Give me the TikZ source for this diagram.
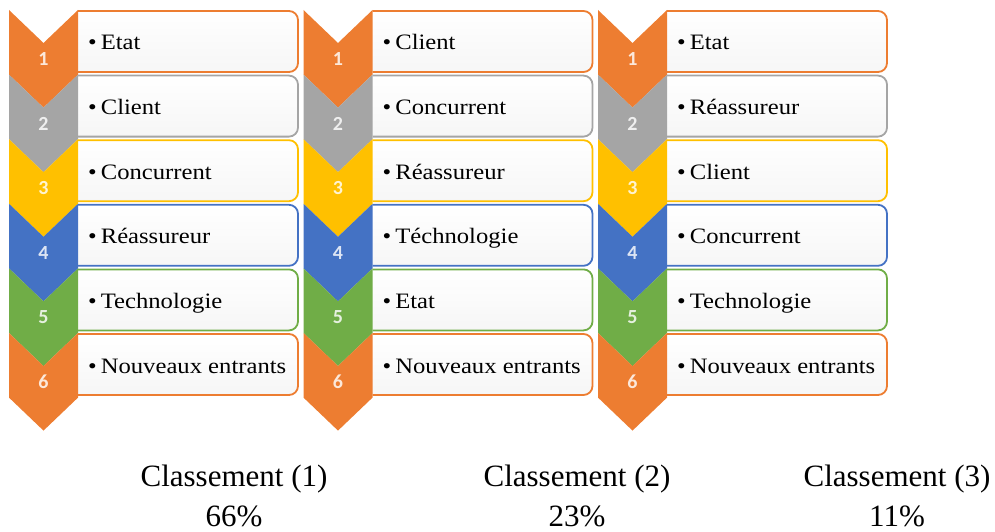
\documentclass[tikz,border=0pt]{standalone}
\usepackage{fontspec}
\setmainfont{Liberation Serif}
\newfontfamily\itemfont[FakeStretch=1.12]{Liberation Serif}
\newfontfamily\numfont{Carlito}
\definecolor{k1}{HTML}{ED7D31}
\definecolor{k2}{HTML}{A5A5A5}
\definecolor{k3}{HTML}{FFC000}
\definecolor{k4}{HTML}{4472C4}
\definecolor{k5}{HTML}{70AD47}
\definecolor{k6}{HTML}{ED7D31}
\tikzset{
  boxst/.style={line width=1.8pt, rounded corners=9pt, top color=white, bottom color=gray!7},
  numst/.style={font=\numfont\bfseries\fontsize{20}{20}\selectfont, inner sep=0pt},
  itemst/.style={anchor=base west, inner sep=0pt, font=\itemfont\fontsize{22}{22}\selectfont},
  labst/.style={anchor=base, inner sep=0pt, font=\fontsize{31}{31}\selectfont}
}
\newcommand\rankboxes[2]{% x0, list macro
  \foreach \r/\k/\t in #2{
    \pgfmathsetmacro\yt{10+(\r-1)*64.6}
    \begin{scope}
      \clip (#1+69,\yt-5) rectangle (#1+300,\yt+70);
      \draw[boxst, draw=\k] (#1+45,\yt+1) rectangle (#1+289,\yt+62);
    \end{scope}
  }
}
\newcommand\rankchevrons[3]{% x0, column id, list macro
  \foreach \r/\k/\t in #3{
    \pgfmathsetmacro\yt{10+(\r-1)*64.6}
    \fill[\k] (#1,\yt) -- (#1+34.5,\yt+33) -- (#1+69,\yt) -- (#1+69,\yt+64.6)
      -- (#1+34.5,\yt+97.6) -- (#1,\yt+64.6) -- cycle;
    \node[numst, text=white!82!\k] (n#2\r) at (#1+34.5,\yt+49) {\r};
    \node[itemst] (t#2\r) at (#1+79,\yt+40) {\textbullet\hspace{4pt}\t};
  }
}
\begin{document}
\begin{tikzpicture}[x=1pt,y=-1pt]
\useasboundingbox (0,0) rectangle (995,532);
\def\colA{1/k1/Etat,2/k2/Client,3/k3/Concurrent,4/k4/Réassureur,5/k5/Technologie,6/k6/Nouveaux entrants}
\def\colB{1/k1/Client,2/k2/Concurrent,3/k3/Réassureur,4/k4/Téchnologie,5/k5/Etat,6/k6/Nouveaux entrants}
\def\colC{1/k1/Etat,2/k2/Réassureur,3/k3/Client,4/k4/Concurrent,5/k5/Technologie,6/k6/Nouveaux entrants}
\rankboxes{9}{\colA}
\rankboxes{303.5}{\colB}
\rankboxes{598}{\colC}
\rankchevrons{9}{a}{\colA}
\rankchevrons{303.5}{b}{\colB}
\rankchevrons{598}{c}{\colC}
\node[labst] (l1) at (234,486) {Classement (1)};
\node[labst] (l2) at (577,486) {Classement (2)};
\node[labst] (l3) at (897,486) {Classement (3)};
\node[labst] (p1) at (234,526) {66\%};
\node[labst] (p2) at (577,526) {23\%};
\node[labst] (p3) at (897,526) {11\%};
\end{tikzpicture}
\end{document}
